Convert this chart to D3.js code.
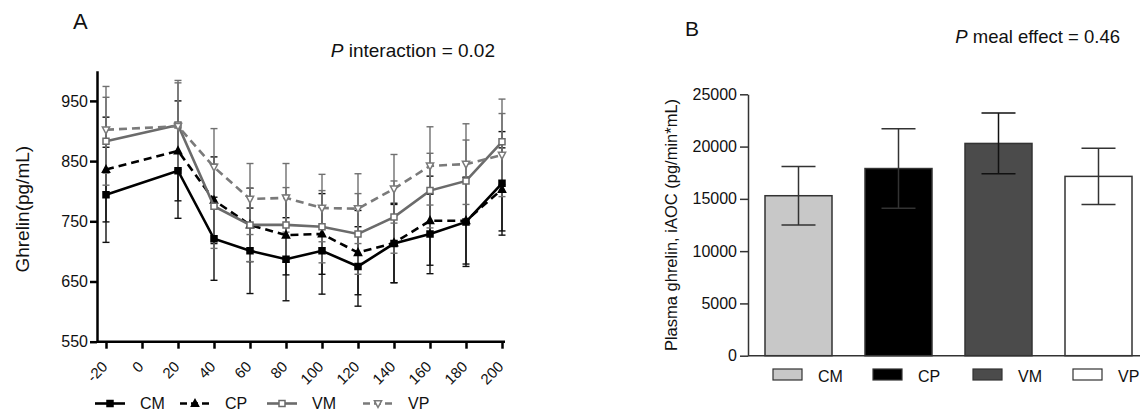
<!DOCTYPE html>
<html>
<head>
<meta charset="utf-8">
<script src="https://cdn.jsdelivr.net/npm/d3@7"></script>
<style>
  body { margin: 0; background: #fff; }
  svg { display: block; font-family: "Liberation Sans", Arial, sans-serif; }
</style>
</head>
<body>
<svg id="chart" width="1140" height="414"></svg>
<script>
// panel A: ghrelin over time
let times = [-20, 20, 40, 60, 80, 100, 120, 140, 160, 180, 200];
let xTicksA = [-20, 0, 20, 40, 60, 80, 100, 120, 140, 160, 180, 200];
let yTicksA = [550, 650, 750, 850, 950];
let cmMean = [794, 834, 721, 701, 687, 701, 675, 713, 729, 749, 813];
let cmSem = [79, 79, 69, 71, 69, 72, 66, 65, 66, 74, 86];
let cpMean = [836, 867, 785, 744, 727, 729, 698, 714, 751, 751, 803];
let cpSem = [87, 83, 72, 61, 66, 67, 70, 66, 74, 72, 69];
let vmMean = [883, 910, 775, 744, 744, 741, 729, 757, 801, 817, 882];
let vmSem = [73, 74, 70, 61, 62, 60, 67, 60, 62, 68, 71];
let vpMean = [902, 908, 840, 787, 789, 772, 771, 804, 842, 845, 860];
let vpSem = [72, 72, 64, 59, 57, 56, 58, 57, 65, 67, 69];

// panel B: iAOC
let meals = ["CM", "CP", "VM", "VP"];
let aocMean = [15300, 17900, 20300, 17150];
let aocSem = [2800, 3800, 2900, 2700];
let yTicksB = [0, 5000, 10000, 15000, 20000, 25000];

let svg = d3.select("#chart");
let font = "Liberation Sans, Arial, sans-serif";

// ---------- panel A ----------
let xA = d3.scaleLinear().domain([-20, 200]).range([106, 502]);
let yA = d3.scaleLinear().domain([550, 1000]).range([341.7, 70.8]);
let axisXA = 97;

let series = [
  { name: "CM", mean: cmMean, sem: cmSem, color: "#000", bar: "#111", dash: null, marker: "square", fill: "#000" },
  { name: "CP", mean: cpMean, sem: cpSem, color: "#000", bar: "#111", dash: "8,5", marker: "triangle", fill: "#000" },
  { name: "VM", mean: vmMean, sem: vmSem, color: "#6b6b6b", bar: "#707070", dash: null, marker: "square", fill: "#fff" },
  { name: "VP", mean: vpMean, sem: vpSem, color: "#7a7a7a", bar: "#707070", dash: "8,5", marker: "down", fill: "#fff" },
];

let gA = svg.append("g");

// y axis
let yAxisA = gA.append("g")
  .attr("transform", `translate(${axisXA},0)`)
  .call(d3.axisLeft(yA).tickValues(yTicksA).tickSize(7).tickPadding(2).tickSizeOuter(0));
yAxisA.select(".domain").attr("stroke-width", 2.5).attr("stroke", "#000");
yAxisA.selectAll(".tick line").attr("stroke-width", 2.5);
yAxisA.selectAll(".tick text").attr("font-size", 16).attr("fill", "#111").attr("font-family", font);

// x axis (plain hyphen for negative ticks, as in the figure)
let xAxisA = gA.append("g")
  .attr("transform", `translate(0,${yA(550)})`)
  .call(d3.axisBottom(xA).tickValues(xTicksA).tickFormat((d) => String(d)).tickSize(7).tickSizeOuter(0));
xAxisA.select(".domain").attr("d", `M${axisXA},0H${xA(200) + 3}`).attr("stroke-width", 2.5);
xAxisA.selectAll(".tick line").attr("stroke-width", 2.5);
xAxisA.selectAll(".tick text")
  .attr("font-size", 15)
  .attr("fill", "#111")
  .attr("font-family", font)
  .attr("text-anchor", "end")
  .attr("y", 0)
  .attr("dy", 0)
  .attr("transform", "translate(2,26) rotate(-45)");

// error bars first, then lines and markers
let cap = 3.5;
series.forEach((s) => {
  let eb = gA.append("g").attr("stroke", s.bar).attr("stroke-width", 1.4);
  times.forEach((t, i) => {
    let x = xA(t), hi = yA(s.mean[i] + s.sem[i]), lo = yA(s.mean[i] - s.sem[i]);
    eb.append("line").attr("x1", x).attr("x2", x).attr("y1", hi).attr("y2", lo);
    eb.append("line").attr("x1", x - cap).attr("x2", x + cap).attr("y1", hi).attr("y2", hi);
    eb.append("line").attr("x1", x - cap).attr("x2", x + cap).attr("y1", lo).attr("y2", lo);
  });
});

let lineA = d3.line().x((d, i) => xA(times[i])).y((d) => yA(d));

function markerPath(type) {
  if (type === "square") return "M-3,-3H3V3H-3Z";
  if (type === "triangle") return "M0,-4L3.6,2.8H-3.6Z";
  return "M-3.6,-2.8H3.6L0,4Z";
}

series.forEach((s) => {
  gA.append("path")
    .datum(s.mean)
    .attr("d", lineA)
    .attr("fill", "none")
    .attr("stroke", s.color)
    .attr("stroke-width", 2.6)
    .attr("stroke-dasharray", s.dash);
  gA.selectAll(null)
    .data(s.mean)
    .enter()
    .append("path")
    .attr("d", markerPath(s.marker))
    .attr("transform", (d, i) => `translate(${xA(times[i])},${yA(d)})`)
    .attr("fill", s.fill)
    .attr("stroke", s.color)
    .attr("stroke-width", 1.5);
});

// legend A
let legX = [95, 180, 267, 363];
series.forEach((s, i) => {
  let lg = gA.append("g").attr("transform", `translate(${legX[i]},409)`);
  lg.append("line")
    .attr("x1", 0).attr("x2", 30).attr("y1", -5.5).attr("y2", -5.5)
    .attr("stroke", s.color).attr("stroke-width", 2.6)
    .attr("stroke-dasharray", s.dash ? "7,4" : null);
  lg.append("path")
    .attr("d", markerPath(s.marker))
    .attr("transform", "translate(15,-5.5)")
    .attr("fill", s.fill).attr("stroke", s.color).attr("stroke-width", 1.5);
  lg.append("text").attr("x", 45).attr("y", 0).attr("font-size", 16).attr("fill", "#111").text(s.name);
});

gA.append("text").attr("x", 73).attr("y", 29).attr("font-size", 22).attr("fill", "#111").text("A");
let pA = gA.append("text").attr("x", 495).attr("y", 57).attr("text-anchor", "end").attr("font-size", 19).attr("fill", "#111");
pA.append("tspan").attr("font-style", "italic").text("P");
pA.append("tspan").text(" interaction = 0.02");

gA.append("text")
  .attr("transform", `translate(29,${(yA(550) + yA(1000)) / 2 + 3}) rotate(-90)`)
  .attr("text-anchor", "middle")
  .attr("font-size", 19)
  .attr("fill", "#111")
  .text("Ghrelin(pg/mL)");

// ---------- panel B ----------
let axisXB = 748;
let yB = d3.scaleLinear().domain([0, 25000]).range([355.7, 94.3]);
let xB = d3.scaleBand().domain(meals).range([axisXB, axisXB + 401]).paddingInner(0.33).paddingOuter(0.17);
let barFill = ["#c8c8c8", "#000000", "#4b4b4b", "#ffffff"];
let barErr = ["#333", "#333", "#111", "#333"];

let gB = svg.append("g");

let yAxisB = gB.append("g")
  .attr("transform", `translate(${axisXB},0)`)
  .call(d3.axisLeft(yB).tickValues(yTicksB).tickFormat(d3.format("d")).tickSize(8).tickPadding(3).tickSizeOuter(0));
yAxisB.select(".domain").attr("stroke", "#333").attr("stroke-width", 1.5);
yAxisB.selectAll(".tick line").attr("stroke", "#333").attr("stroke-width", 1.5);
yAxisB.selectAll(".tick text").attr("font-size", 16).attr("fill", "#111").attr("font-family", font);

gB.selectAll(".bar")
  .data(meals)
  .enter()
  .append("rect")
  .attr("x", (d) => xB(d))
  .attr("width", xB.bandwidth())
  .attr("y", (d, i) => yB(aocMean[i]))
  .attr("height", (d, i) => yB(0) - yB(aocMean[i]))
  .attr("fill", (d, i) => barFill[i])
  .attr("stroke", "#333")
  .attr("stroke-width", 1.5);

let capB = 17;
meals.forEach((m, i) => {
  let cx = xB(m) + xB.bandwidth() / 2;
  let hi = yB(aocMean[i] + aocSem[i]), lo = yB(aocMean[i] - aocSem[i]);
  let eb = gB.append("g").attr("stroke", barErr[i]).attr("stroke-width", 1.5);
  eb.append("line").attr("x1", cx).attr("x2", cx).attr("y1", hi).attr("y2", lo);
  eb.append("line").attr("x1", cx - capB).attr("x2", cx + capB).attr("y1", hi).attr("y2", hi);
  eb.append("line").attr("x1", cx - capB).attr("x2", cx + capB).attr("y1", lo).attr("y2", lo);
});

// x axis line
gB.append("line")
  .attr("x1", axisXB).attr("x2", 1140)
  .attr("y1", yB(0)).attr("y2", yB(0))
  .attr("stroke", "#333").attr("stroke-width", 1.5);

// legend B
meals.forEach((m, i) => {
  let lx = xB(m) + 8;
  gB.append("rect")
    .attr("x", lx).attr("y", 369).attr("width", 29).attr("height", 11)
    .attr("fill", barFill[i]).attr("stroke", "#333").attr("stroke-width", 1.2);
  gB.append("text").attr("x", lx + 45).attr("y", 382).attr("font-size", 16).attr("fill", "#111").text(m);
});

gB.append("text").attr("x", 685).attr("y", 36).attr("font-size", 21).attr("fill", "#111").text("B");
let pB = gB.append("text").attr("x", 1120).attr("y", 43).attr("text-anchor", "end").attr("font-size", 18.5).attr("fill", "#111");
pB.append("tspan").attr("font-style", "italic").text("P");
pB.append("tspan").text(" meal effect = 0.46");

gB.append("text")
  .attr("transform", `translate(677,${(yB(0) + yB(25000)) / 2}) rotate(-90)`)
  .attr("text-anchor", "middle")
  .attr("font-size", 16.5)
  .attr("fill", "#111")
  .text("Plasma ghrelin, iAOC (pg/min*mL)");
</script>
</body>
</html>
